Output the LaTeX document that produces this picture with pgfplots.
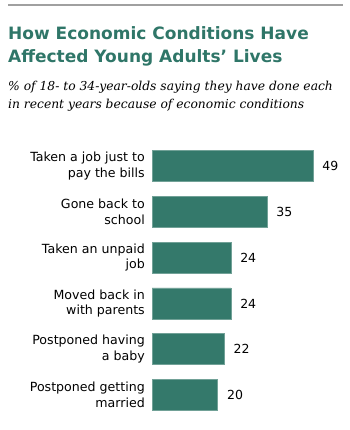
\documentclass[border=0pt]{standalone}
\usepackage{pgfplots}
\pgfplotsset{compat=1.18}
\usepackage{fontspec}
\setmainfont{DejaVu Sans}
\newfontfamily\subfont{DejaVu Serif}
\definecolor{pewteal}{RGB}{52,121,107}
\definecolor{titleteal}{RGB}{47,118,104}
\begin{document}
\begin{tikzpicture}
\path[use as bounding box] (0pt,0pt) rectangle (349pt,430pt);
\draw[color={rgb,255:red,160;green,160;blue,160}, line width=1.3pt] (8pt,425pt) -- (343pt,425pt);
\node[anchor=base west, inner sep=0pt, text=titleteal, font=\fontsize{17}{20}\selectfont\bfseries] at (8pt,390.7pt) {How Economic Conditions Have};
\node[anchor=base west, inner sep=0pt, text=titleteal, font=\fontsize{17}{20}\selectfont\bfseries] at (8pt,367.7pt) {Affected Young Adults’ Lives};
\node[anchor=base west, inner sep=0pt, font=\subfont\itshape\fontsize{12.3}{14}\selectfont] at (8pt,339.3pt) {\% of 18- to 34-year-olds saying they have done each};
\node[anchor=base west, inner sep=0pt, font=\subfont\itshape\fontsize{12.3}{14}\selectfont] at (8pt,321.7pt) {in recent years because of economic conditions};
\begin{axis}[
  at={(152pt,286.9pt)}, anchor=north west,
  scale only axis, width=200pt, height=274.8pt,
  xbar, bar width=31pt,
  xmin=0, xmax=60.8, ymin=-0.5, ymax=5.5,
  y dir=reverse,
  axis line style={draw=none},
  xtick=\empty,
  ytick={0,1,2,3,4,5},
  yticklabels={{Taken a job just to\\pay the bills},{Gone back to\\school},{Taken an unpaid\\job},{Moved back in\\with parents},{Postponed having\\a baby},{Postponed getting\\married}},
  yticklabel style={align=right, inner sep=0pt, xshift=-7pt, font=\fontsize{12.6}{15.6}\selectfont},
  major tick length=0pt,
  ytick style={draw=none},
  /pgf/number format/assume math mode=true,
  nodes near coords,
  every node near coord/.append style={anchor=west, inner sep=0pt, xshift=9pt, font=\fontsize{12.5}{15}\selectfont, text=black},
  clip=false,
]
\addplot[fill=pewteal, draw=pewteal!70!white, line width=0.6pt] coordinates {(49,0) (35,1) (24,2) (24,3) (22,4) (20,5)};
\end{axis}
\end{tikzpicture}
\end{document}
